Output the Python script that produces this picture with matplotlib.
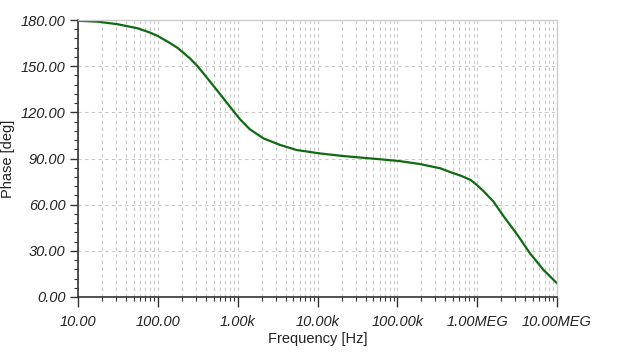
import numpy as np
import matplotlib.pyplot as plt
from matplotlib.ticker import LogLocator, MultipleLocator, FixedLocator, NullFormatter

# phase response
freq = [10, 17.8, 31.7, 56, 80, 100, 142, 178, 253, 305, 373, 548, 803,
        1.07e3, 1.42e3, 2.1e3, 3.4e3, 5.5e3, 1.07e4, 2.1e4, 6.1e4,
        1.07e5, 1.92e5, 3.47e5, 4.7e5, 6.26e5, 8.3e5, 1.0e6, 1.2e6,
        1.6e6, 2.17e6, 3.1e6, 4.6e6, 6.8e6, 1e7]
phase = [179.5, 178.9, 177.2, 174.6, 171.8, 169.6, 165.0, 161.8, 155.0, 150.7, 145.3, 134.5, 123.6,
         115.5, 109.0, 103.1, 98.8, 95.5, 93.3, 91.6, 89.5,
         88.3, 86.4, 83.6, 81.0, 78.8, 76.0, 72.6, 68.8,
         62.0, 52.1, 41.3, 28.3, 17.5, 8.9]

xticks = [10, 100, 1e3, 1e4, 1e5, 1e6, 1e7]
xlabels = ["10.00", "100.00", "1.00k", "10.00k", "100.00k", "1.00MEG", "10.00MEG"]
yticks = [0, 30, 60, 90, 120, 150, 180]
ylabels = ["%.2f" % v for v in yticks]

plt.rcParams['font.family'] = ['Liberation Sans', 'DejaVu Sans']

fig = plt.figure(figsize=(6.19, 3.55), dpi=100)
ax = fig.add_axes([78 / 619, 58 / 355, 479 / 619, 277 / 355])

ax.plot(freq, phase, color='#0f6a12', lw=1.6)

ax.set_xscale('log')
ax.set_xlim(10, 1e7)
ax.set_ylim(0, 180)

ax.xaxis.set_major_locator(FixedLocator(xticks))
ax.set_xticklabels(xlabels, fontstyle='italic', fontsize=10.5, color='#222222')
ax.xaxis.set_minor_locator(LogLocator(base=10, subs=np.arange(2, 10), numticks=20))
ax.xaxis.set_minor_formatter(NullFormatter())
ax.set_yticks(yticks)
ax.set_yticklabels(ylabels, fontstyle='italic', fontsize=10.5, color='#222222')
ax.yaxis.set_minor_locator(MultipleLocator(6))

grid_kw = dict(color='#c8c8c8', linestyle=(0, (3, 3)), linewidth=0.8)
ax.grid(True, which='major', axis='both', **grid_kw)
ax.grid(True, which='minor', axis='x', **grid_kw)

for s in ['left', 'bottom']:
    ax.spines[s].set_color('#333333')
    ax.spines[s].set_linewidth(1.2)
for s in ['top', 'right']:
    ax.spines[s].set_color('#cccccc')
    ax.spines[s].set_linewidth(1.0)

ax.tick_params(which='major', direction='out', length=6, width=1.0, color='#333333', pad=3)
ax.tick_params(which='minor', direction='out', length=3, width=0.8, color='#333333')
ax.tick_params(axis='x', which='major', length=7, pad=6)

ax.set_xlabel('Frequency [Hz]', fontsize=10.5, color='#222222', labelpad=2)
ax.set_ylabel('Phase [deg]', fontsize=10.5, color='#222222', labelpad=4)

fig.savefig('out.png', dpi=100)
